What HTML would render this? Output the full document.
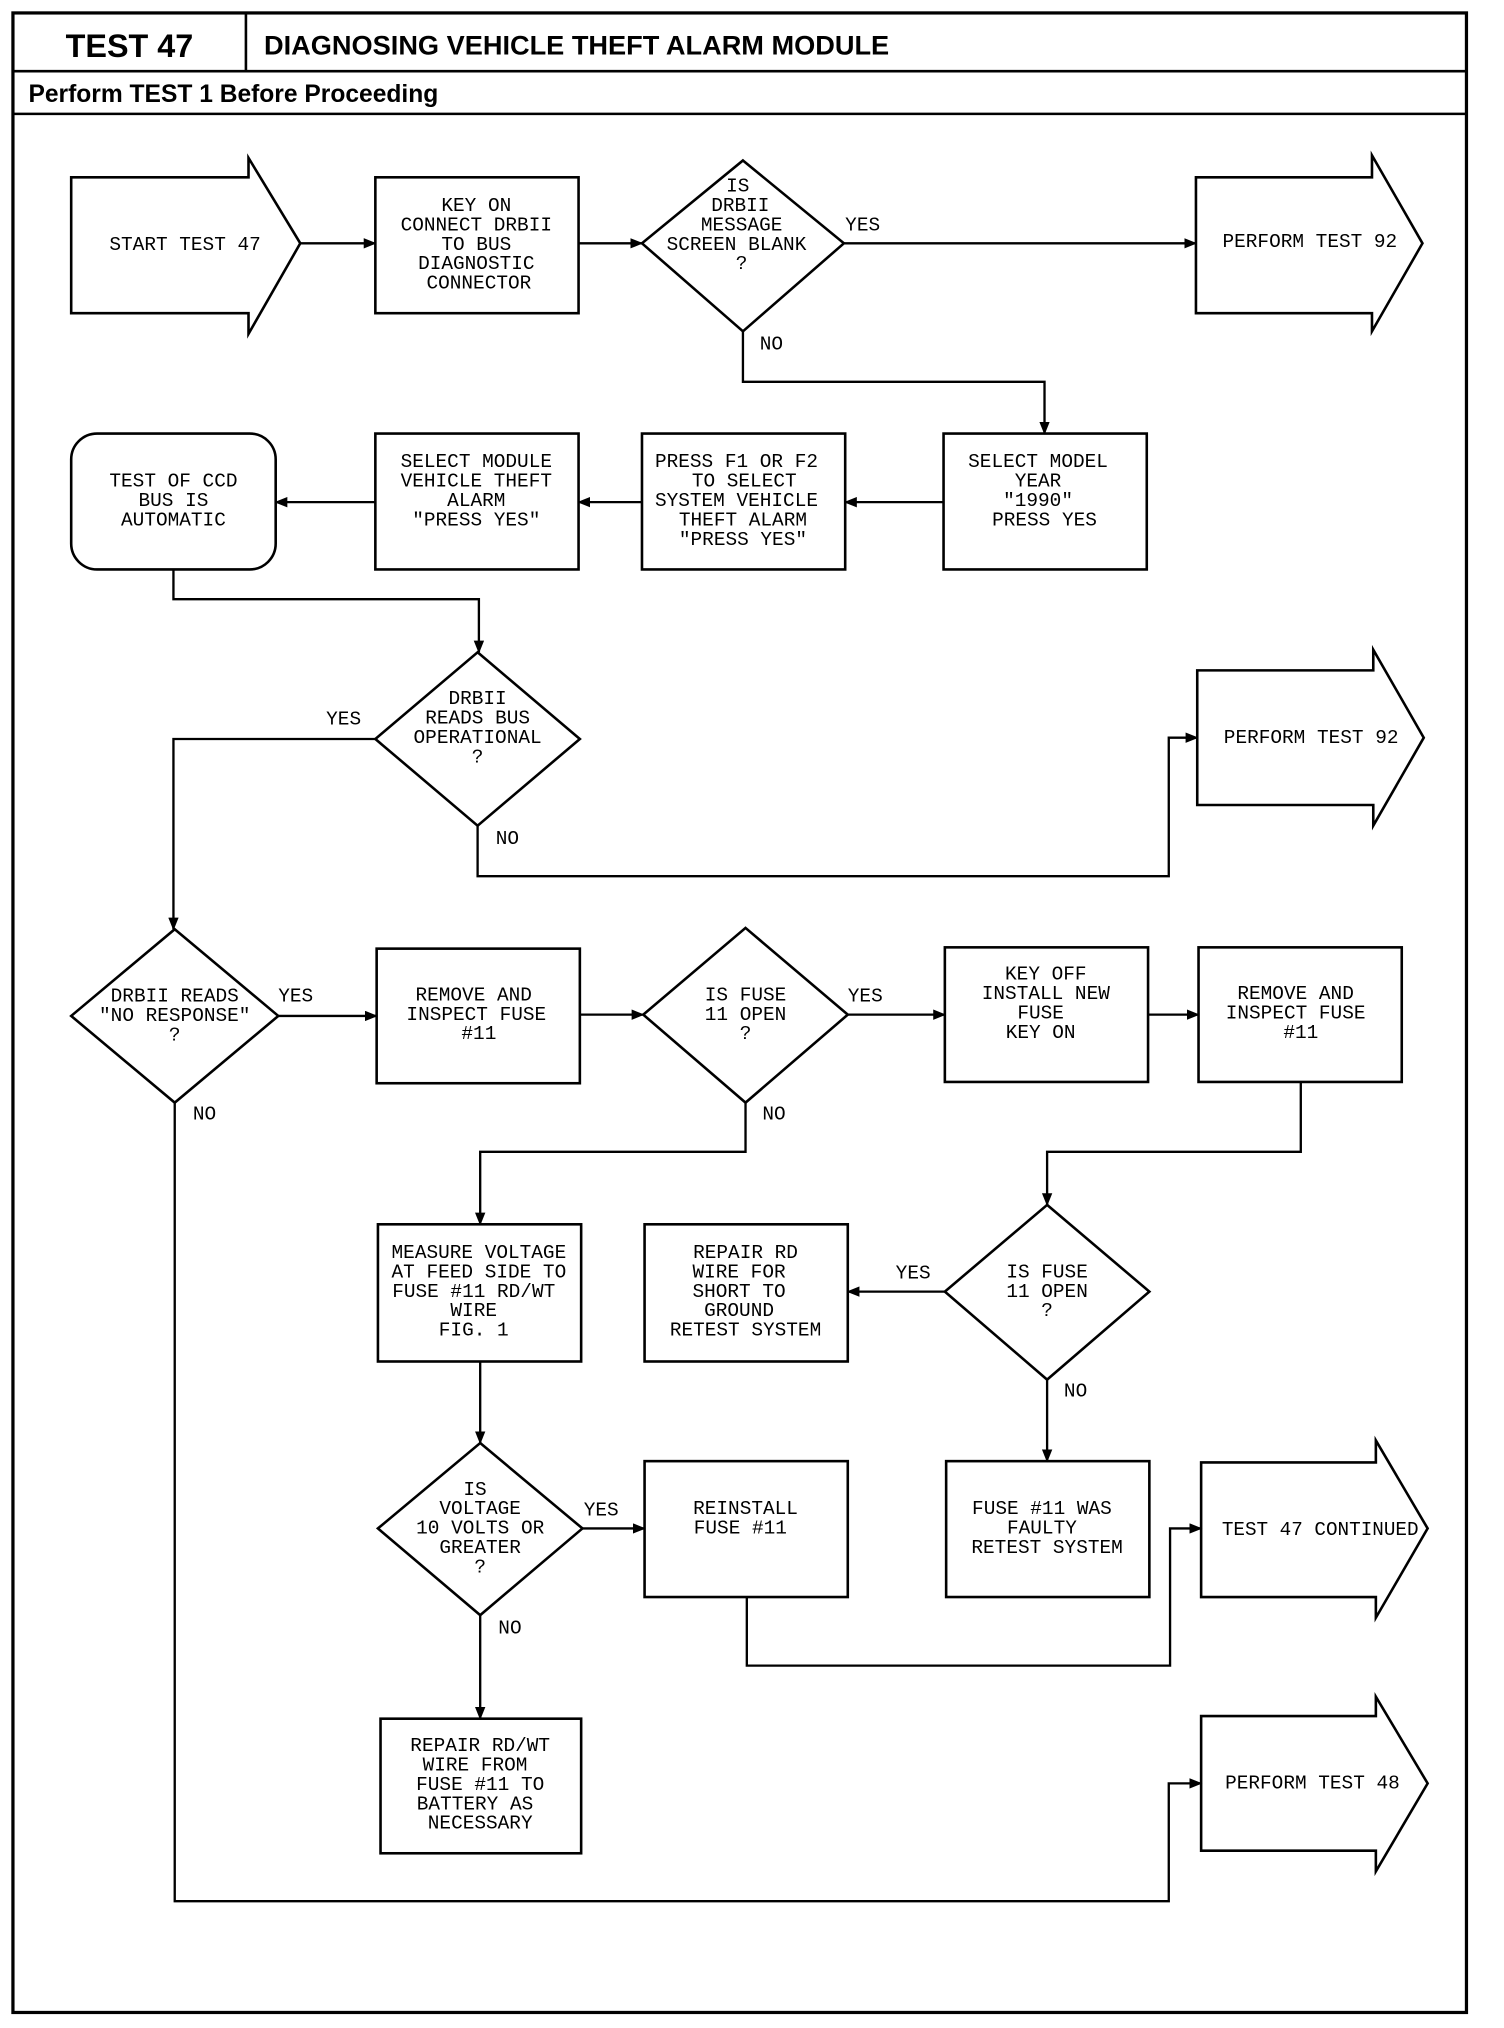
<!DOCTYPE html>
<html><head><meta charset="utf-8"><style>
html,body{margin:0;padding:0;background:#fff;}
svg{display:block;}
.t{font-family:"Liberation Mono",monospace;font-size:15px;fill:#000;text-anchor:middle;}
.l{font-family:"Liberation Mono",monospace;font-size:15px;fill:#000;}
.h{font-family:"Liberation Sans",sans-serif;font-weight:bold;fill:#000;}
</style></head><body>
<svg width="1504" height="2028" viewBox="0 0 1162 1567" preserveAspectRatio="none" xmlns="http://www.w3.org/2000/svg">
<defs><marker id="a" markerWidth="10" markerHeight="8" refX="9" refY="4" orient="auto" markerUnits="userSpaceOnUse"><path d="M0,0 L10,4 L0,8 Z" fill="#000"/></marker></defs>
<g fill="none" stroke="#000" stroke-width="2">
<rect x="10" y="10" width="1123" height="1545" stroke-width="2.5"/>
<line x1="10" y1="55" x2="1133" y2="55"/>
<line x1="190" y1="10" x2="190" y2="55"/>
<line x1="10" y1="88" x2="1133" y2="88"/>
<path d="M55,137 H192 V122 L232,188 L192,258 V242 H55 Z"/>
<path d="M924,137 H1060 V120 L1099,188 L1060,256 V242 H924 Z"/>
<path d="M925,518 H1061 V502 L1100,570 L1061,638 V622 H925 Z"/>
<path d="M928,1130 H1063 V1113 L1103,1181 L1063,1250 V1234 H928 Z"/>
<path d="M928,1326 H1063 V1311 L1103,1378 L1063,1446 V1430 H928 Z"/>
<rect x="290" y="137" width="157" height="105"/>
<rect x="729" y="335" width="157" height="105"/>
<rect x="496" y="335" width="157" height="105"/>
<rect x="290" y="335" width="157" height="105"/>
<rect x="55" y="335" width="158" height="105" rx="20"/>
<rect x="291" y="733" width="157" height="104"/>
<rect x="730" y="732" width="157" height="104"/>
<rect x="926" y="732" width="157" height="104"/>
<rect x="292" y="946" width="157" height="106"/>
<rect x="498" y="946" width="157" height="106"/>
<rect x="731" y="1129" width="157" height="105"/>
<rect x="498" y="1129" width="157" height="105"/>
<rect x="294" y="1328" width="155" height="104"/>
<path d="M574,124 L652,188 L574,256 L496,188 Z"/>
<path d="M369,504 L448,571 L369,638 L290,571 Z"/>
<path d="M135,718 L215,785 L135,852 L55,785 Z"/>
<path d="M576,717 L655,784 L576,852 L497,784 Z"/>
<path d="M809,931 L888,998 L809,1066 L730,998 Z"/>
<path d="M371,1115 L450,1181 L371,1248 L292,1181 Z"/>
</g>
<g fill="none" stroke="#000" stroke-width="1.8" marker-end="url(#a)">
<path d="M232,188 H290"/>
<path d="M447,188 H496"/>
<path d="M652,188 H924"/>
<path d="M574,256 V295 H807 V335"/>
<path d="M729,388 H653"/>
<path d="M496,388 H447"/>
<path d="M290,388 H213"/>
<path d="M134,440 V463 H370 V504"/>
<path d="M290,571 H134 V718"/>
<path d="M369,638 V677 H903 V570 H925"/>
<path d="M215,785 H291"/>
<path d="M135,852 V1469 H903 V1378 H928"/>
<path d="M448,784 H497"/>
<path d="M655,784 H730"/>
<path d="M887,784 H926"/>
<path d="M1005,836 V890 H809 V931"/>
<path d="M576,852 V890 H371 V946"/>
<path d="M730,998 H655"/>
<path d="M809,1066 V1129"/>
<path d="M371,1052 V1115"/>
<path d="M450,1181 H498"/>
<path d="M577,1234 V1287 H904 V1181 H928"/>
<path d="M371,1248 V1328"/>
</g>
<text class="h" x="100" y="44" font-size="25" text-anchor="middle">TEST 47</text>
<text class="h" x="204" y="42" font-size="21">DIAGNOSING VEHICLE THEFT ALARM MODULE</text>
<text class="h" x="22" y="79" font-size="19">Perform TEST 1 Before Proceeding</text>
<g class="t">
<text x="143" y="193">START TEST 47</text>
<text x="368" y="163">KEY ON</text><text x="368" y="178">CONNECT DRBII</text><text x="368" y="193">TO BUS</text><text x="368" y="208">DIAGNOSTIC</text><text x="370" y="223">CONNECTOR</text>
<text x="570" y="148">IS</text><text x="572" y="163">DRBII</text><text x="573" y="178">MESSAGE</text><text x="569" y="193">SCREEN BLANK</text><text x="573" y="208">?</text>
<text x="1012" y="191">PERFORM TEST 92</text>
<text x="802" y="361">SELECT MODEL</text><text x="802" y="376">YEAR</text><text x="802" y="391">"1990"</text><text x="807" y="406">PRESS YES</text>
<text x="569" y="361">PRESS F1 OR F2</text><text x="575" y="376">TO SELECT</text><text x="569" y="391">SYSTEM VEHICLE</text><text x="574" y="406">THEFT ALARM</text><text x="574" y="421">"PRESS YES"</text>
<text x="368" y="361">SELECT MODULE</text><text x="368" y="376">VEHICLE THEFT</text><text x="368" y="391">ALARM</text><text x="368" y="406">"PRESS YES"</text>
<text x="134" y="376">TEST OF CCD</text><text x="134" y="391">BUS IS</text><text x="134" y="406">AUTOMATIC</text>
<text x="369" y="544">DRBII</text><text x="369" y="559">READS BUS</text><text x="369" y="574">OPERATIONAL</text><text x="369" y="589">?</text>
<text x="1013" y="574">PERFORM TEST 92</text>
<text x="135" y="774">DRBII READS</text><text x="135" y="789">"NO RESPONSE"</text><text x="135" y="804">?</text>
<text x="366" y="773">REMOVE AND</text><text x="368" y="788">INSPECT FUSE</text><text x="370" y="803">#11</text>
<text x="576" y="773">IS FUSE</text><text x="576" y="788">11 OPEN</text><text x="576" y="803">?</text>
<text x="808" y="757">KEY OFF</text><text x="808" y="772">INSTALL NEW</text><text x="804" y="787">FUSE</text><text x="804" y="802">KEY ON</text>
<text x="1001" y="772">REMOVE AND</text><text x="1001" y="787">INSPECT FUSE</text><text x="1005" y="802">#11</text>
<text x="370" y="972">MEASURE VOLTAGE</text><text x="370" y="987">AT FEED SIDE TO</text><text x="366" y="1002">FUSE #11 RD/WT</text><text x="366" y="1017">WIRE</text><text x="366" y="1032">FIG. 1</text>
<text x="576" y="972">REPAIR RD</text><text x="571" y="987">WIRE FOR</text><text x="571" y="1002">SHORT TO</text><text x="571" y="1017">GROUND</text><text x="576" y="1032">RETEST SYSTEM</text>
<text x="809" y="987">IS FUSE</text><text x="809" y="1002">11 OPEN</text><text x="809" y="1017">?</text>
<text x="367" y="1155">IS</text><text x="371" y="1170">VOLTAGE</text><text x="371" y="1185">10 VOLTS OR</text><text x="371" y="1200">GREATER</text><text x="371" y="1215">?</text>
<text x="576" y="1170">REINSTALL</text><text x="572" y="1185">FUSE #11</text>
<text x="805" y="1170">FUSE #11 WAS</text><text x="805" y="1185">FAULTY</text><text x="809" y="1200">RETEST SYSTEM</text>
<text x="1020" y="1186" textLength="152" lengthAdjust="spacingAndGlyphs">TEST 47 CONTINUED</text>
<text x="371" y="1353">REPAIR RD/WT</text><text x="367" y="1368">WIRE FROM</text><text x="371" y="1383">FUSE #11 TO</text><text x="367" y="1398">BATTERY AS</text><text x="371" y="1413">NECESSARY</text>
<text x="1014" y="1382">PERFORM TEST 48</text>
</g>
<g class="l">
<text x="653" y="178">YES</text><text x="587" y="270">NO</text>
<text x="252" y="560">YES</text><text x="383" y="652">NO</text>
<text x="215" y="774">YES</text><text x="149" y="865">NO</text>
<text x="655" y="774">YES</text><text x="589" y="865">NO</text>
<text x="692" y="988">YES</text><text x="822" y="1079">NO</text>
<text x="451" y="1171">YES</text><text x="385" y="1262">NO</text>
</g>
</svg>
</body></html>
